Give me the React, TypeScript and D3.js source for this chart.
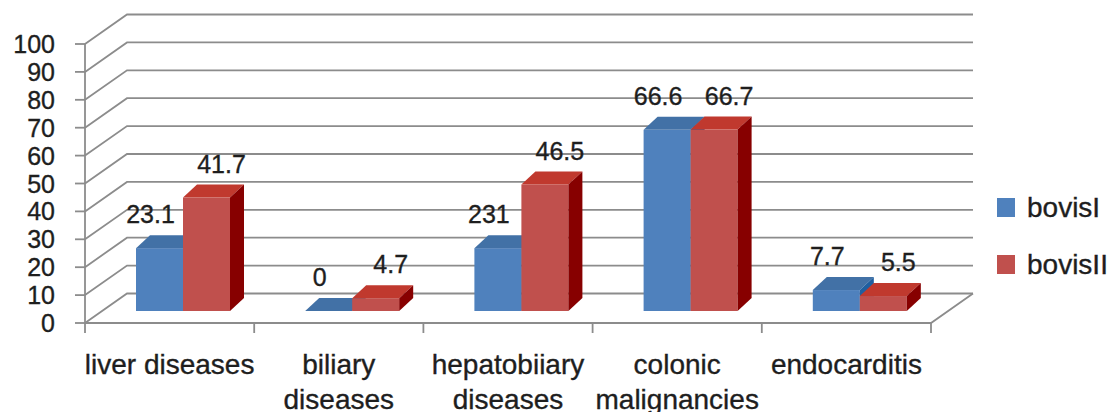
import React from "react";
import * as d3 from "d3";

const categories = ["liver diseases", "biliary diseases", "hepatobiiary diseases", "colonic malignancies", "endocarditis"];
const categoryLines = [["liver diseases"], ["biliary", "diseases"], ["hepatobiiary", "diseases"], ["colonic", "malignancies"], ["endocarditis"]];
const seriesNames = ["bovisI", "bovisII"];
const bovisI = [23.1, 0, 23.1, 66.6, 7.7];
const bovisII = [41.7, 4.7, 46.5, 66.7, 5.5];
const bovisILabels = ["23.1", "0", "231", "66.6", "7.7"];
const bovisIILabels = ["41.7", "4.7", "46.5", "66.7", "5.5"];
const yTicks = [0, 10, 20, 30, 40, 50, 60, 70, 80, 90, 100];

const W = 1115;
const H = 412;
const FONT = "'Liberation Sans', Arial, Helvetica, sans-serif";
const TEXT = "#1e1e1e";
const GRID = "#8c8c8c";

// projection constants
const FRONT_LEFT = 85;
const FRONT_RIGHT = 931;
const WALL_DX = 42;
const WALL_DY = -29.5;
const BAR_DX = 14;
const BAR_DY = -13;

const colors = [
  { front: "#4F81BD", top: "#4271A6", side: "#1F5FA0" },
  { front: "#C0504D", top: "#C0392E", side: "#870000" },
];

const textStyle = { stroke: TEXT, strokeWidth: 0.35 } as const;

export default function App() {
  const yWall = d3.scaleLinear().domain([0, 100]).range([323, 44]);
  const yBar = d3.scaleLinear().domain([0, 100]).range([311, 39]);
  const x = d3.scaleBand<string>().domain(categories).range([FRONT_LEFT, FRONT_RIGHT]).paddingInner(0).paddingOuter(0);
  const xs = d3.scaleBand<string>().domain(seriesNames).range([51, 145]).padding(0);

  const seriesVals = [bovisI, bovisII];
  const seriesLabels = [bovisILabels, bovisIILabels];
  const labelShift = [-16, 8];

  const bars: React.ReactNode[] = [];
  const labels: React.ReactNode[] = [];
  categories.forEach((c, ci) => {
    seriesNames.forEach((s, si) => {
      const v = seriesVals[si][ci];
      const x0 = (x(c) as number) + (xs(s) as number);
      const bw = xs.bandwidth();
      const x1 = x0 + bw;
      const yb = yBar(0);
      const yt = yBar(v);
      const col = colors[si];
      const topPts = [[x0, yt], [x1, yt], [x1 + BAR_DX, yt + BAR_DY], [x0 + BAR_DX, yt + BAR_DY]];
      const sidePts = [[x1, yt], [x1 + BAR_DX, yt + BAR_DY], [x1 + BAR_DX, yb + BAR_DY], [x1, yb]];
      const pts = (p: number[][]) => p.map((q) => q.join(",")).join(" ");
      bars.push(
        <g key={`b-${ci}-${si}`}>
          {yb - yt > 0 && <rect x={x0} y={yt} width={bw} height={yb - yt} fill={col.front} />}
          <polygon points={pts(topPts)} fill={col.top} />
          {yb - yt > 0 && <polygon points={pts(sidePts)} fill={col.side} />}
        </g>
      );
      labels.push(
        <text
          key={`l-${ci}-${si}`}
          x={(x0 + x1) / 2 + BAR_DX / 2 + labelShift[si]}
          y={yt + BAR_DY - 12}
          textAnchor="middle"
          fontSize={25}
          fontFamily={FONT}
          fill={TEXT}
          style={textStyle}
        >
          {seriesLabels[si][ci]}
        </text>
      );
    });
  });

  const backRight = FRONT_RIGHT + WALL_DX;

  return (
    <svg width={W} height={H} style={{ position: "absolute", left: 0, top: 0, background: "#fff" }}>
      {yTicks.map((t) => {
        const yf = yWall(t);
        const yk = yf + WALL_DY;
        return (
          <g key={`g-${t}`}>
            <polyline
              points={`${FRONT_LEFT},${yf} ${FRONT_LEFT + WALL_DX},${yk} ${backRight},${yk}`}
              fill="none"
              stroke={GRID}
              strokeWidth={1.8}
            />
            <line x1={FRONT_LEFT - 10} x2={FRONT_LEFT} y1={yf} y2={yf} stroke={GRID} strokeWidth={1.8} />
            <text
              x={55}
              y={yf}
              dy="0.36em"
              textAnchor="end"
              fontSize={25}
              fontFamily={FONT}
              fill={TEXT}
              style={textStyle}
            >
              {t}
            </text>
          </g>
        );
      })}
      <line x1={FRONT_LEFT} x2={FRONT_LEFT} y1={yWall(100)} y2={yWall(0)} stroke={GRID} strokeWidth={1.8} />
      <polyline
        points={`${FRONT_LEFT},${yWall(0)} ${FRONT_RIGHT},${yWall(0)} ${backRight},${yWall(0) + WALL_DY}`}
        fill="none"
        stroke={GRID}
        strokeWidth={1.8}
      />
      {[...categories.map((c) => x(c) as number), FRONT_RIGHT].map((tx, i) => (
        <line key={`ct-${i}`} x1={tx} x2={tx} y1={yWall(0)} y2={yWall(0) + 10} stroke={GRID} strokeWidth={1.8} />
      ))}
      {bars}
      {labels}
      {categories.map((c, ci) => (
        <text
          key={`cl-${ci}`}
          x={(x(c) as number) + x.bandwidth() / 2}
          y={374}
          textAnchor="middle"
          fontSize={28}
          fontFamily={FONT}
          fill={TEXT}
          style={textStyle}
        >
          {categoryLines[ci].map((ln, li) => (
            <tspan key={li} x={(x(c) as number) + x.bandwidth() / 2} dy={li === 0 ? 0 : 35}>
              {ln}
            </tspan>
          ))}
        </text>
      ))}
      {seriesNames.map((s, si) => (
        <g key={`lg-${si}`}>
          <rect x={997} y={198 + si * 57} width={18} height={19} fill={colors[si].front} />
          <text x={1027} y={217 + si * 57} fontSize={28} fontFamily={FONT} fill={TEXT} style={textStyle}>
            {s}
          </text>
        </g>
      ))}
    </svg>
  );
}
